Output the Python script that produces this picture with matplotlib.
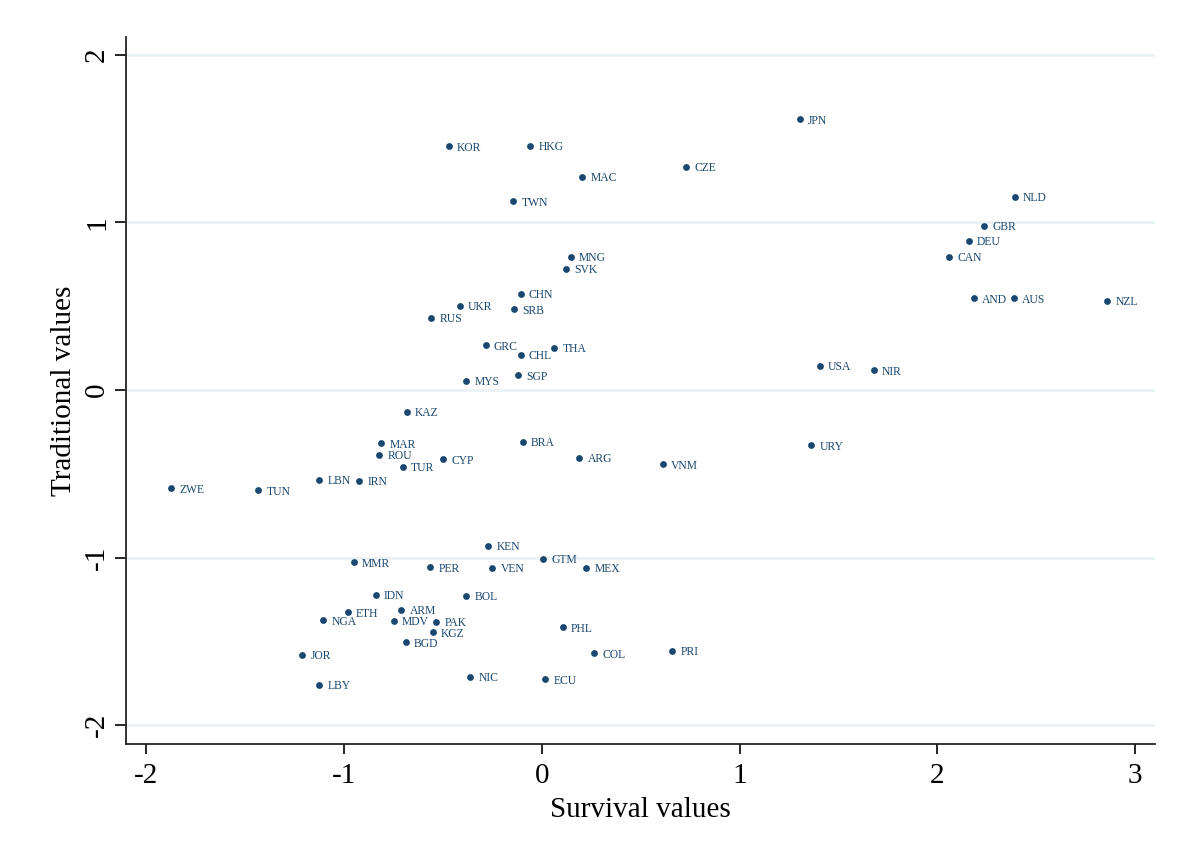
import matplotlib
matplotlib.use("Agg")
import matplotlib.pyplot as plt

plt.rcParams['font.family'] = ['Liberation Serif', 'DejaVu Serif']
plt.rcParams['axes.unicode_minus'] = False

countries = ["ZWE", "TUN", "LBN", "IRN", "MAR", "ROU", "TUR", "CYP", "KAZ", "MYS",
             "KEN", "MMR", "PER", "VEN", "IDN", "BOL", "ETH", "ARM", "NGA", "MDV",
             "PAK", "KGZ", "BGD", "JOR", "LBY", "NIC",
             "KOR", "HKG", "CZE", "MAC", "TWN", "MNG", "SVK", "CHN", "UKR", "SRB",
             "RUS", "GRC", "CHL", "THA", "SGP",
             "JPN", "NLD", "GBR", "DEU", "CAN", "AND", "AUS", "NZL", "USA", "NIR",
             "BRA", "ARG", "VNM", "URY", "GTM", "MEX", "PHL", "COL", "PRI", "ECU"]

survival = [-1.872, -1.433, -1.125, -0.923, -0.812, -0.822, -0.703, -0.499, -0.683, -0.382,
            -0.272, -0.950, -0.563, -0.250, -0.839, -0.382, -0.981, -0.710, -1.103, -0.749,
            -0.532, -0.552, -0.688, -1.210, -1.125, -0.360,
            -0.471, -0.057, 0.730, 0.204, -0.144, 0.147, 0.123, -0.107, -0.415, -0.138,
            -0.558, -0.284, -0.107, 0.064, -0.121,
            1.304, 2.390, 2.238, 2.159, 2.058, 2.184, 2.386, 2.859, 1.405, 1.678,
            -0.097, 0.190, 0.613, 1.362, 0.005, 0.226, 0.106, 0.265, 0.660, 0.019]

traditional = [-0.587, -0.599, -0.537, -0.541, -0.318, -0.386, -0.460, -0.414, -0.129, 0.056,
               -0.931, -1.029, -1.059, -1.063, -1.222, -1.230, -1.327, -1.313, -1.375, -1.379,
               -1.385, -1.447, -1.507, -1.582, -1.759, -1.713,
               1.455, 1.459, 1.331, 1.272, 1.127, 0.796, 0.724, 0.575, 0.501, 0.482,
               0.432, 0.267, 0.211, 0.253, 0.088,
               1.616, 1.154, 0.979, 0.890, 0.796, 0.547, 0.547, 0.531, 0.143, 0.117,
               -0.310, -0.404, -0.444, -0.330, -1.007, -1.063, -1.417, -1.572, -1.558, -1.727]

xticks = [-2, -1, 0, 1, 2, 3]
yticks = [-2, -1, 0, 1, 2]

navy = '#1a476f'

fig = plt.figure(figsize=(11.77, 8.55), dpi=100)
ax = fig.add_axes([0.1071, 0.1298, 0.8742, 0.8269])

ax.set_xlim(-2.101, 3.10)
ax.set_ylim(-2.113, 2.107)

for yt in yticks:
    ax.axhline(yt, color='#eaf2f3', lw=2.0, zorder=0)

ax.scatter(survival, traditional, s=24, color=navy, zorder=3, linewidths=0)
for c, x, y in zip(countries, survival, traditional):
    ax.annotate(c, (x, y), xytext=(6, -1), textcoords='offset points',
                fontsize=8.4, color=navy, va='center', ha='left', zorder=4)

ax.spines['top'].set_visible(False)
ax.spines['right'].set_visible(False)
for s in ['left', 'bottom']:
    ax.spines[s].set_linewidth(1.3)
    ax.spines[s].set_color('#222222')

ax.set_xticks(xticks)
ax.set_xticklabels([str(t) for t in xticks], fontsize=21)
ax.set_yticks(yticks)
ax.set_yticklabels([str(t) for t in yticks], fontsize=21, rotation=90, va='center')
ax.tick_params(axis='x', length=7.5, width=1.2, pad=6)
ax.tick_params(axis='y', length=8, width=1.2, pad=3.5)

ax.set_xlabel('Survival values', fontsize=21, labelpad=6)
ax.set_ylabel('Traditional values', fontsize=21, labelpad=5)

fig.savefig('out.png', dpi=100, facecolor='white')
